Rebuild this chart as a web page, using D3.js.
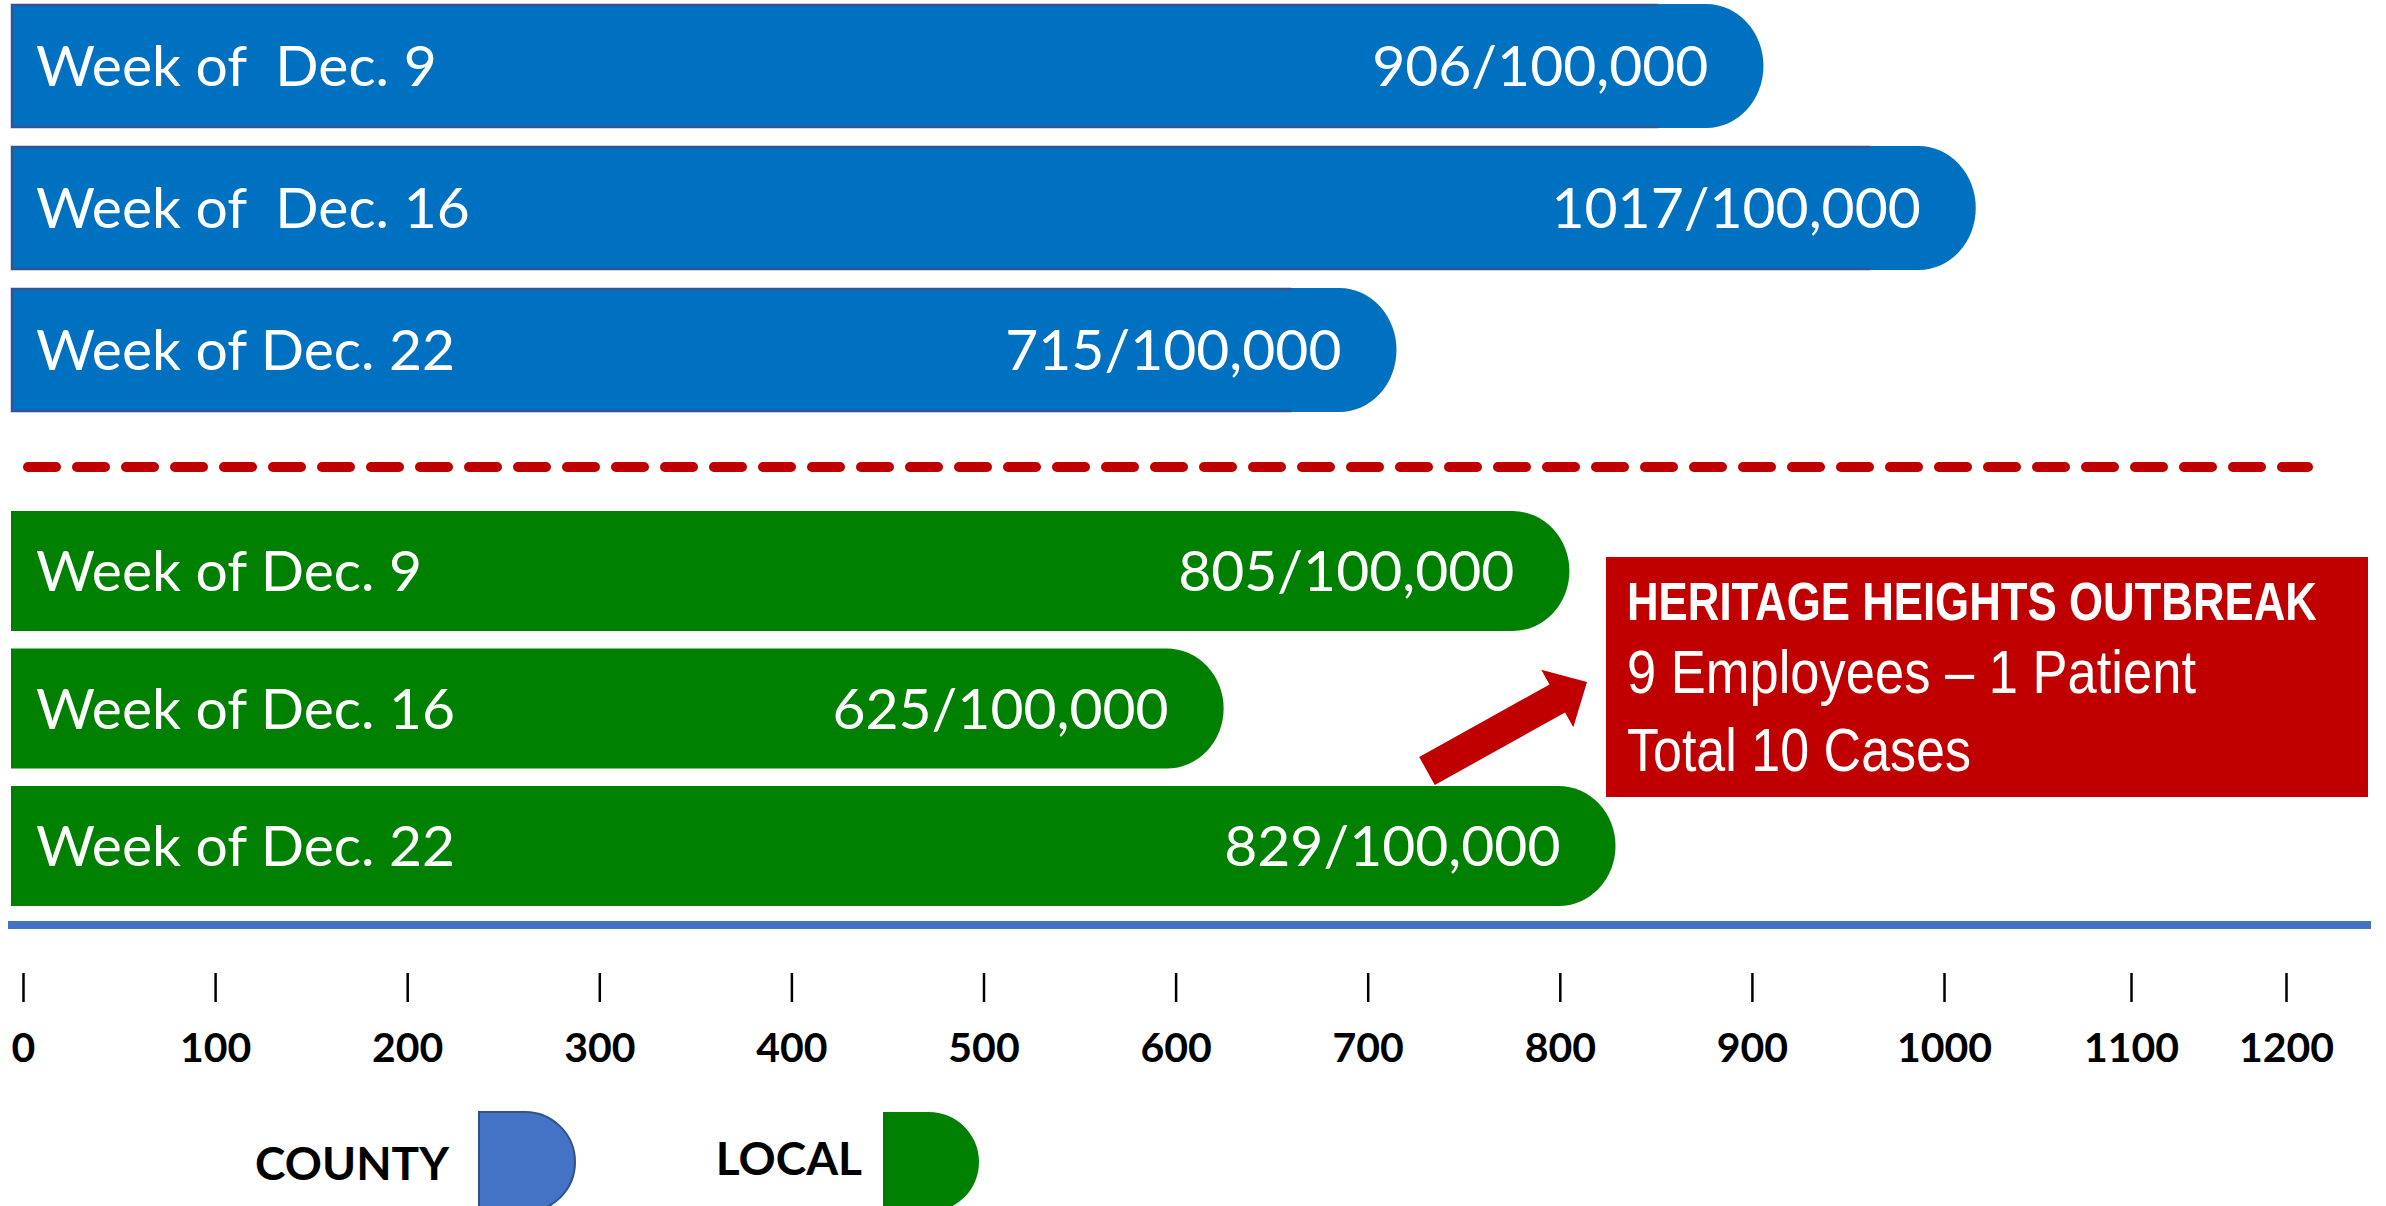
<!DOCTYPE html>
<html>
<head>
<meta charset="utf-8">
<script src="https://cdn.jsdelivr.net/npm/d3@7"></script>
<style>
  html, body { margin: 0; padding: 0; background: #ffffff; }
  svg { display: block; }
</style>
</head>
<body>
<script>
// ---------- data ----------
const countyWeeks = ["Week of  Dec. 9", "Week of  Dec. 16", "Week of Dec. 22"];
const countyValues = [906, 1017, 715];
const localWeeks = ["Week of Dec. 9", "Week of Dec. 16", "Week of Dec. 22"];
const localValues = [805, 625, 829];
const valueSuffix = "/100,000";
const tickValues = [0, 100, 200, 300, 400, 500, 600, 700, 800, 900, 1000, 1100, 1200];
const legendLabels = ["COUNTY", "LOCAL"];
const calloutLines = ["HERITAGE HEIGHTS OUTBREAK", "9 Employees \u2013 1 Patient", "Total 10 Cases"];

// ---------- layout ----------
const W = 2386, H = 1206;
const COUNTY_FILL = "#0070C0", COUNTY_EDGE = "#2F5597";
const LOCAL_FILL = "#008000";
const LEGEND_BLUE = "#4472C4";
const RED = "#C00000";
const FONT = "Lato, 'Open Sans', sans-serif";
const NARROW = "'Liberation Sans Narrow', 'Liberation Sans', Arial, sans-serif";

const svg = d3.select("body").append("svg")
  .attr("width", W).attr("height", H)
  .attr("viewBox", `0 0 ${W} ${H}`);

svg.append("rect").attr("width", W).attr("height", H).attr("fill", "#fff");

// axis scale (ticks in the source are uneven at the end)
const x = d3.scaleLinear()
  .domain([0, 1000, 1100, 1200])
  .range([23, 1944, 2131, 2286]);

const yCounty = d3.scaleBand().domain(countyWeeks).range([4, 412]).paddingInner(0.127);
const yLocal = d3.scaleBand().domain(localWeeks).range([511, 906]).paddingInner(0.127);

const CAP_W = 115, CAP_RX = 57;

function dPath(x0, x1, y0, y1, rx) {
  const ry = (y1 - y0) / 2;
  return `M${x0},${y0}H${x1 - rx}A${rx},${ry} 0 0 1 ${x1 - rx},${y1}H${x0}Z`;
}

function drawGroup(cats, vals, yScale, fill, edge) {
  const g = svg.append("g");
  const rows = cats.map((c, i) => ({ cat: c, val: vals[i] }));
  const left = x(0) - 12;
  rows.forEach(d => {
    const y0 = yScale(d.cat), bw = yScale.bandwidth();
    const end = x(d.val);
    // whole bar: rectangle with rounded "delay" end
    g.append("path")
      .attr("d", dPath(left, end, y0, y0 + bw, CAP_RX))
      .attr("fill", fill);
    if (edge) {
      const rEnd = end - CAP_W + 10;
      g.append("path")
        .attr("d", `M${rEnd},${y0 + 1}H${left + 1}V${y0 + bw - 1}H${rEnd}`)
        .attr("fill", "none").attr("stroke", edge).attr("stroke-width", 2.5);
    }
    // category label
    g.append("text")
      .attr("x", left + 25).attr("y", y0 + bw / 2 + 20)
      .style("white-space", "pre")
      .attr("font-family", FONT).attr("font-size", 57)
      .attr("fill", "#fff")
      .text(d.cat);
    // value label
    g.append("text")
      .attr("x", end - 55).attr("y", y0 + bw / 2 + 20)
      .attr("text-anchor", "end")
      .attr("font-family", FONT).attr("font-size", 57)
      .attr("fill", "#fff")
      .text(d.val + valueSuffix);
  });
}

drawGroup(countyWeeks, countyValues, yCounty, COUNTY_FILL, COUNTY_EDGE);

// dashed separator
svg.append("line")
  .attr("x1", 28).attr("x2", 2308).attr("y1", 467).attr("y2", 467)
  .attr("stroke", RED).attr("stroke-width", 10)
  .attr("stroke-linecap", "round")
  .attr("stroke-dasharray", "28 21");

drawGroup(localWeeks, localValues, yLocal, LOCAL_FILL, null);

// baseline (blue rule)
svg.append("line")
  .attr("x1", 8).attr("x2", 2371).attr("y1", 925).attr("y2", 925)
  .attr("stroke", LEGEND_BLUE).attr("stroke-width", 8);

// axis
const axis = d3.axisBottom(x).tickValues(tickValues).tickSize(29).tickPadding(0)
  .tickFormat(d3.format("d"));
const ag = svg.append("g").attr("transform", "translate(0,973)").call(axis);
ag.select(".domain").remove();
ag.selectAll(".tick line").attr("stroke", "#000").attr("stroke-width", 2.5);
ag.selectAll(".tick text")
  .attr("y", 89).attr("dy", null)
  .attr("font-family", FONT).attr("font-weight", 700).attr("font-size", 41)
  .attr("fill", "#000");

// callout box
const box = { x: 1606, y: 557, w: 762, h: 240 };
svg.append("rect").attr("x", box.x).attr("y", box.y).attr("width", box.w).attr("height", box.h)
  .attr("fill", RED);
const calloutStyle = [
  { base: 620, size: 53, weight: 700, len: 690 },
  { base: 693, size: 61, weight: 400, len: 569 },
  { base: 771, size: 61, weight: 400, len: 344 }
];
calloutLines.forEach((t, i) => {
  const s = calloutStyle[i];
  svg.append("text")
    .attr("x", box.x + 21).attr("y", s.base)
    .attr("font-family", NARROW).attr("font-weight", s.weight).attr("font-size", s.size)
    .attr("textLength", s.len).attr("lengthAdjust", "spacingAndGlyphs")
    .attr("fill", "#fff")
    .text(t);
});

// arrow
(function () {
  const tail = [1427, 771], tip = [1587, 682];
  const dx = tip[0] - tail[0], dy = tip[1] - tail[1];
  const L = Math.hypot(dx, dy);
  const u = [dx / L, dy / L], n = [-u[1], u[0]];
  const sw = 16, hw = 33, hl = 34;
  const base = [tip[0] - u[0] * hl, tip[1] - u[1] * hl];
  const p = (pt, k) => [pt[0] + n[0] * k, pt[1] + n[1] * k];
  const pts = [
    p(tail, sw), p(base, sw), p(base, hw), tip,
    p(base, -hw), p(base, -sw), p(tail, -sw)
  ];
  svg.append("path")
    .attr("d", "M" + pts.map(q => q.join(",")).join("L") + "Z")
    .attr("fill", RED);
})();

// legend
const legendItems = [
  { label: legendLabels[0], tx: 449, base: 1180, sx: 479, fill: LEGEND_BLUE, edge: "#2F528F" },
  { label: legendLabels[1], tx: 862, base: 1175, sx: 883, fill: LOCAL_FILL, edge: null }
];
legendItems.forEach(d => {
  svg.append("text")
    .attr("x", d.tx).attr("y", d.base)
    .attr("text-anchor", "end")
    .attr("font-family", FONT).attr("font-weight", 700).attr("font-size", 46)
    .attr("fill", "#000")
    .text(d.label);
  svg.append("path")
    .attr("d", dPath(d.sx, d.sx + 96, 1112, 1212, 50))
    .attr("fill", d.fill)
    .attr("stroke", d.edge || "none").attr("stroke-width", d.edge ? 2 : 0);
});
</script>
</body>
</html>
